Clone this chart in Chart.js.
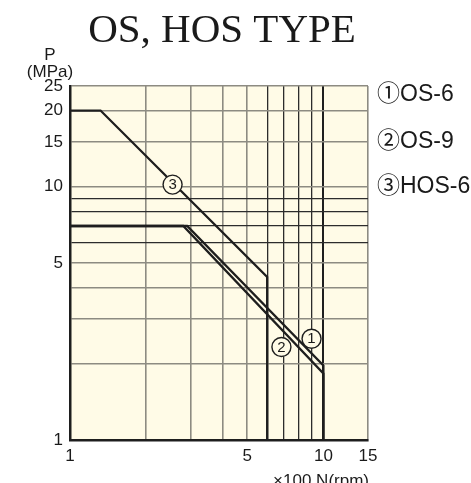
<!DOCTYPE html>
<html><head><meta charset="utf-8">
<script src="https://cdn.jsdelivr.net/npm/chart.js@4/dist/chart.umd.min.js"></script>
<style>html,body{margin:0;padding:0;background:#fff;}#wrap{width:471px;height:483px;}</style>
</head><body><div id="wrap"><canvas id="c" width="471" height="483"></canvas></div>
<script>
// ---- data ----
const xGridValues = [1,2,3,4,5,6,7,8,9,10,15];
const xTickLabels = [1,5,10,15];
const yGridValues = [1,2,3,4,5,6,7,8,9,10,15,20,25];
const yTickLabels = [1,5,10,15,20,25];
const os6N = [1, 2.9, 10, 10];
const os6P = [7, 7, 1.97, 1];
const os9N = [1, 2.8, 10, 10];
const os9P = [7, 7, 1.83, 1];
const hos6N = [1, 1.32, 6, 6];
const hos6P = [20, 20, 4.4, 1];
const markerN = [8.98, 6.83, 2.54];
const markerP = [2.51, 2.33, 10.2];
const markerText = ['1','2','3'];
const legendNames = ['①OS-6','②OS-9','③HOS-6'];
const titleText = 'OS, HOS TYPE';

const pts = (xs, ys) => xs.map((x,i)=>({x:x, y:ys[i]}));
const cream = '#FFFBE7';
const darkSet = [6,7,8,9];

const lineDs = (xs, ys) => ({type:'line', data:pts(xs,ys), borderColor:'#1e1e1e', borderWidth:2.3,
  pointRadius:0, fill:false, tension:0, clip:false, borderJoinStyle:'miter', order:1});

const textPlugin = {
  id:'texts',
  beforeDraw(chart){
    const {ctx, chartArea:a} = chart;
    ctx.save();
    ctx.fillStyle = cream;
    ctx.fillRect(a.left, a.top, a.right-a.left, a.bottom-a.top);
    ctx.restore();
  },
  afterDatasetsDraw(chart){
    const {ctx} = chart;
    const xs = chart.scales.x, ys = chart.scales.y;
    ctx.save();
    ctx.fillStyle = '#1a1a1a';
    ctx.textAlign = 'center'; ctx.textBaseline = 'middle';
    ctx.font = '15px "Liberation Sans", Arial, sans-serif';
    markerN.forEach((n,i)=>{
      ctx.fillText(markerText[i], xs.getPixelForValue(n), ys.getPixelForValue(markerP[i])+0.5);
    });
    // title
    ctx.font = '41px "Liberation Serif", "Times New Roman", serif';
    ctx.textBaseline = 'alphabetic';
    ctx.fillText(titleText, 222, 42);
    // y title
    ctx.font = '17px "Liberation Sans", Arial, sans-serif';
    ctx.fillText('P', 50, 60);
    ctx.fillText('(MPa)', 50, 77);
    // x title
    ctx.textAlign = 'right';
    ctx.font = '17px "Liberation Sans", Arial, sans-serif';
    ctx.fillText('×100 N(rpm)', 369, 486);
    // legend names
    ctx.textAlign = 'left';
    ctx.textBaseline = 'middle';
    ctx.font = '23px "Liberation Sans", "Noto Sans CJK JP", sans-serif';
    const ly = [95, 142, 187];
    legendNames.forEach((t,i)=> ctx.fillText(t, 377, ly[i]));
    ctx.restore();
  }
};

const gridColor = (c) => {
  const v = c.tick && c.tick.value;
  if (darkSet.includes(v)) return '#2c2c2c';
  if (v === 10 && c.scale.axis === 'x') return '#1e1e1e';
  return '#8d8b82';
};
const gridWidth = (c) => {
  const v = c.tick && c.tick.value;
  if (v === 10 && c.scale.axis === 'x') return 2;
  if (darkSet.includes(v)) return 1.3;
  return 1.6;
};

new Chart(document.getElementById('c'), {
  type:'scatter',
  data:{datasets:[
    lineDs(os6N, os6P),
    lineDs(os9N, os9P),
    lineDs(hos6N, hos6P),
    {type:'scatter', data:pts(markerN, markerP), pointRadius:9.5, pointHoverRadius:9.5, order:0,
     pointBackgroundColor:cream, pointBorderColor:'#1e1e1e', pointBorderWidth:1.4, clip:false}
  ]},
  options:{
    responsive:false, animation:false, devicePixelRatio:1,
    layout:{padding:{top:86, right:103, left:0, bottom:0}},
    plugins:{legend:{display:false}, tooltip:{enabled:false}, title:{display:false}},
    scales:{
      x:{type:'logarithmic', min:1, max:15,
        afterBuildTicks:(s)=>{ s.ticks = xGridValues.map(v=>({value:v})); },
        afterFit:(s)=>{ s.height = 43; },
        ticks:{autoSkip:false, maxRotation:0, padding:6, color:'#1a1a1a',
          font:{family:'"Liberation Sans", Arial, sans-serif', size:17},
          callback:(v)=> xTickLabels.includes(v) ? String(v) : ''},
        grid:{color:gridColor, lineWidth:gridWidth, drawTicks:false},
        border:{color:'#1e1e1e', width:2.5}
      },
      y:{type:'logarithmic', min:1, max:25,
        afterBuildTicks:(s)=>{ s.ticks = yGridValues.map(v=>({value:v})); },
        afterFit:(s)=>{ s.width = 70; },
        ticks:{autoSkip:false, padding:7, color:'#1a1a1a',
          font:{family:'"Liberation Sans", Arial, sans-serif', size:17},
          callback:(v)=> yTickLabels.includes(v) ? String(v) : ''},
        grid:{color:gridColor, lineWidth:gridWidth, drawTicks:false},
        border:{color:'#1e1e1e', width:2.5}
      }
    }
  },
  plugins:[textPlugin]
});
</script></body></html>
